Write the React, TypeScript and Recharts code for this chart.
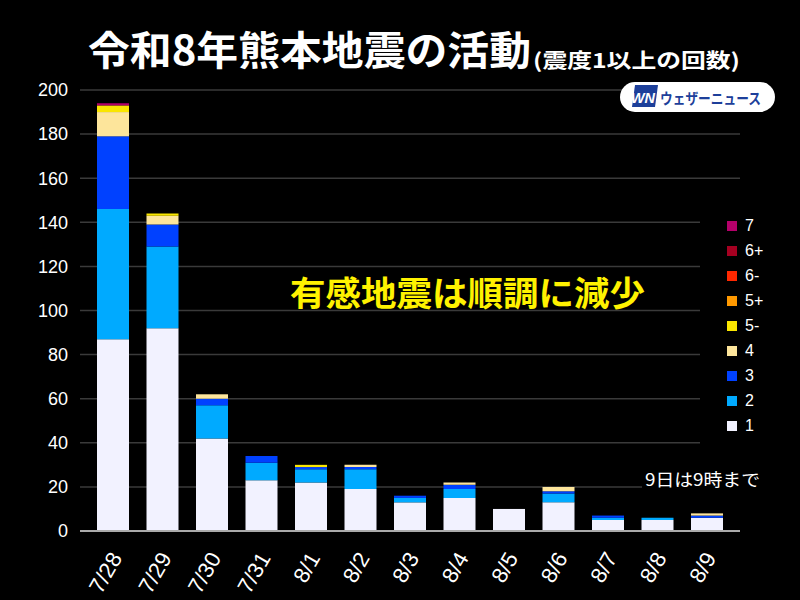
import { BarChart, Bar, XAxis, YAxis, CartesianGrid, Legend } from 'recharts';

// 日付と震度別の回数 (震度1以上)
const dates = ['7/28', '7/29', '7/30', '7/31', '8/1', '8/2', '8/3', '8/4', '8/5', '8/6', '8/7', '8/8', '8/9'];
const shindo1 = [87, 92, 42, 23, 22, 19, 13, 15, 10, 13, 5, 5, 6];
const shindo2 = [59, 37, 15, 8, 6, 9, 2, 4, 0, 4, 1, 1, 0];
const shindo3 = [33, 10, 3, 3, 1, 1, 1, 2, 0, 1, 1, 0, 1];
const shindo4 = [11, 4, 2, 0, 0, 1, 0, 1, 0, 2, 0, 0, 1];
const shindo5m = [3, 1, 0, 0, 1, 0, 0, 0, 0, 0, 0, 0, 0];
const shindo5p = [0, 0, 0, 0, 0, 0, 0, 0, 0, 0, 0, 0, 0];
const shindo6m = [0, 0, 0, 0, 0, 0, 0, 0, 0, 0, 0, 0, 0];
const shindo6p = [0, 0, 0, 0, 0, 0, 0, 0, 0, 0, 0, 0, 0];
const shindo7 = [1, 0, 0, 0, 0, 0, 0, 0, 0, 0, 0, 0, 0];
const yTicks = [0, 20, 40, 60, 80, 100, 120, 140, 160, 180, 200];

const series = [
  { key: 's1', name: '1', color: '#F2F2FF', values: shindo1 },
  { key: 's2', name: '2', color: '#00AAFF', values: shindo2 },
  { key: 's3', name: '3', color: '#0041FF', values: shindo3 },
  { key: 's4', name: '4', color: '#FDE59B', values: shindo4 },
  { key: 's5m', name: '5-', color: '#FAE600', values: shindo5m },
  { key: 's5p', name: '5+', color: '#FF9900', values: shindo5p },
  { key: 's6m', name: '6-', color: '#FF2800', values: shindo6m },
  { key: 's6p', name: '6+', color: '#A50021', values: shindo6p },
  { key: 's7', name: '7', color: '#B4006A', values: shindo7 },
];

const data = dates.map((date, i) => {
  const row: any = { date };
  series.forEach((s) => (row[s.key] = s.values[i]));
  return row;
});

const LATIN = '"Liberation Sans", Arial, sans-serif';
const CJK = '"Noto Sans CJK JP", sans-serif';

const DateTick = (props: any) => {
  const { x, y, payload } = props;
  const tx = x + 10;
  const ty = y + 19;
  return (
    <text x={tx} y={ty} transform={`rotate(-60, ${tx}, ${ty})`} textAnchor="end" fill="#fff" fontSize={22} fontFamily={LATIN}>
      {payload.value}
    </text>
  );
};

// 凡例は震度の高い順 (7が上)
const LegendBox = (props: any) => {
  const order = series.map((s) => s.name);
  const items = [...(props.payload || [])].sort((a: any, b: any) => order.indexOf(b.value) - order.indexOf(a.value));
  return (
    <div style={{ background: '#000', width: 100, paddingBottom: 8 }}>
      {items.map((e: any) => (
        <div key={e.value} style={{ display: 'flex', alignItems: 'center', height: 25.1 }}>
          <span style={{ width: 10, height: 10, background: e.color, marginLeft: 27, marginRight: 8, display: 'inline-block' }} />
          <span style={{ color: '#fff', fontSize: 16, fontFamily: LATIN }}>{e.value}</span>
        </div>
      ))}
    </div>
  );
};

export default function App() {
  return (
    <div style={{ position: 'absolute', left: 0, top: 0, width: 800, height: 600, background: '#000', overflow: 'hidden' }}>
      <BarChart width={800} height={600} data={data} margin={{ top: 90, right: 60, bottom: 0, left: 0 }} barSize={32}>
        <CartesianGrid vertical={false} stroke="#3a3a3a" strokeWidth={1.5} />
        <XAxis
          dataKey="date"
          padding={{ left: 8, right: 8.5 }}
          tickLine={false}
          axisLine={{ stroke: '#aaaaaa', strokeWidth: 2 }}
          tick={<DateTick />}
          interval={0}
          height={69}
        />
        <YAxis
          width={80}
          domain={[0, 200]}
          ticks={yTicks}
          axisLine={false}
          tickLine={false}
          tickMargin={6}
          tick={{ fill: '#fff', fontSize: 18, fontFamily: LATIN }}
        />
        {series.map((s) => (
          <Bar key={s.key} dataKey={s.key} name={s.name} stackId="shindo" fill={s.color} isAnimationActive={false} />
        ))}
        <Legend
          layout="vertical"
          align="center"
          verticalAlign="middle"
          content={<LegendBox />}
          wrapperStyle={{ position: 'absolute', left: 700, top: 213, width: 100 }}
        />
      </BarChart>
      <svg width={800} height={600} style={{ position: 'absolute', left: 0, top: 0, pointerEvents: 'none' }}>
        <text x={88} y={65} fill="#fff" fontSize={40} fontWeight="bold" fontFamily={CJK} textLength={443} lengthAdjust="spacingAndGlyphs">
          令和8年熊本地震の活動
        </text>
        <text x={533} y={68} fill="#fff" fontSize={20} fontWeight="bold" fontFamily={CJK} textLength={207} lengthAdjust="spacingAndGlyphs">
          (震度1以上の回数)
        </text>
        {/* ロゴ */}
        <rect x={620} y={82} width={155} height={30} rx={15} fill="#fff" />
        <polygon points="635,85 658,85 655,107 632,107" fill="#1d3f9a" />
        <text x={631} y={103} fill="#fff" fontSize={15} fontWeight="bold" fontStyle="italic" fontFamily={LATIN} textLength={24} lengthAdjust="spacingAndGlyphs">
          WN
        </text>
        <text x={660} y={104} fill="#1d3f9a" fontSize={15} fontWeight="bold" fontFamily={CJK} textLength={101} lengthAdjust="spacingAndGlyphs">
          ウェザーニュース
        </text>
        <text x={290} y={306} fill="#FFF200" fontSize={34} fontWeight="bold" fontFamily={CJK} textLength={355} lengthAdjust="spacingAndGlyphs">
          有感地震は順調に減少
        </text>
        <rect x={642} y={467} width={124} height={26} fill="#000" />
        <text x={645} y={486} fill="#fff" fontSize={17} fontFamily={CJK} textLength={115} lengthAdjust="spacingAndGlyphs">
          9日は9時まで
        </text>
      </svg>
    </div>
  );
}
